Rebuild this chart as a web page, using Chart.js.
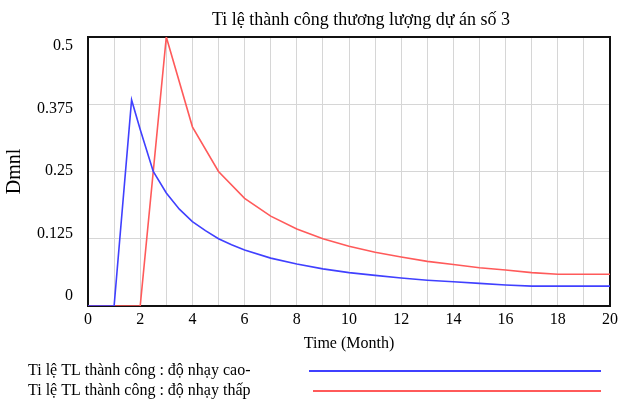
<!DOCTYPE html>
<html>
<head>
<meta charset="utf-8">
<script src="https://cdn.jsdelivr.net/npm/chart.js@4"></script>
<style>
  html, body { margin: 0; padding: 0; background: #fff; }
  #wrap { width: 620px; height: 401px; }
</style>
</head>
<body>
<div id="wrap"><canvas id="myChart" width="620" height="401"></canvas></div>
<script>
let titleText = 'Ti lệ thành công thương lượng dự án số 3';
let labels = ['Ti lệ TL thành công : độ nhạy cao-', 'Ti lệ TL thành công : độ nhạy thấp'];
let colorHex = ['#4040ff', '#ff5a5a'];

// high sensitivity (blue)
let timeHigh = [0, 1, 1.67, 2, 2.5, 3, 3.5, 4, 4.5, 5, 5.5, 6, 7, 8, 9, 10, 11, 12, 13, 14, 15, 16, 17, 18, 19, 20];
let valHigh = [0, 0, 0.383, 0.328, 0.25, 0.21, 0.18, 0.157, 0.14, 0.125, 0.114, 0.104, 0.089, 0.078, 0.069, 0.062, 0.057, 0.052, 0.048, 0.045, 0.042, 0.039, 0.037, 0.037, 0.037, 0.037];

// low sensitivity (red)
let timeLow = [0, 1, 2, 3, 4, 5, 6, 7, 8, 9, 10, 11, 12, 13, 14, 15, 16, 17, 18, 19, 20];
let valLow = [0, 0, 0, 0.5, 0.333, 0.25, 0.2, 0.167, 0.143, 0.125, 0.111, 0.1, 0.091, 0.083, 0.077, 0.071, 0.067, 0.062, 0.059, 0.059, 0.059];

let yTicks = [0, 0.125, 0.25, 0.375, 0.5];

const serif = 'Liberation Serif';

function toPoints(xs, ys) {
    return xs.map((x, i) => ({ x: x, y: ys[i] }));
}

// frame around the plot, title, and legend drawn as "text ....... line"
const framePlugin = {
    id: 'frame',
    beforeDatasetsDraw(chart) {
        const c = chart.ctx;
        const a = chart.chartArea;
        c.save();
        c.strokeStyle = '#111';
        c.lineWidth = 2;
        c.strokeRect(a.left, a.top, a.right - a.left, a.bottom - a.top);
        c.restore();
    },
    afterDraw(chart) {
        const c = chart.ctx;
        c.save();
        c.fillStyle = '#000';
        c.textBaseline = 'middle';

        c.font = '18px "' + serif + '"';
        c.textAlign = 'center';
        c.fillText(titleText, 361, 20);

        c.font = '16px "' + serif + '"';
        c.textAlign = 'left';
        chart.data.datasets.forEach((ds, i) => {
            let y = 371 + i * 20;
            c.fillText(ds.label, 28, y);
            c.strokeStyle = ds.borderColor;
            c.lineWidth = 2;
            c.beginPath();
            c.moveTo(i === 0 ? 309 : 313, y);
            c.lineTo(601, y);
            c.stroke();
        });
        c.restore();
    }
};

let ctx = document.getElementById('myChart').getContext('2d');

let myChart = new Chart(ctx, {
    type: 'line',
    data: {
        datasets: [{
            label: labels[0],
            data: toPoints(timeHigh, valHigh),
            borderColor: colorHex[0],
            borderWidth: 1.6,
            pointRadius: 0,
            tension: 0
        }, {
            label: labels[1],
            data: toPoints(timeLow, valLow),
            borderColor: colorHex[1],
            borderWidth: 1.6,
            pointRadius: 0,
            tension: 0
        }]
    },
    options: {
        responsive: false,
        animation: false,
        layout: {
            padding: { left: 0, right: 10, top: 37, bottom: 48 }
        },
        plugins: {
            legend: { display: false },
            tooltip: { enabled: false },
            title: { display: false }
        },
        scales: {
            x: {
                type: 'linear',
                min: 0,
                max: 20,
                afterFit: (scale) => {
                    scale.height = 47;
                    scale.paddingLeft = 0;
                    scale.paddingRight = 0;
                },
                border: { display: true, color: '#111', width: 2 },
                grid: { color: '#d6d6d6', lineWidth: 1, drawTicks: false },
                ticks: {
                    stepSize: 1,
                    autoSkip: false,
                    maxRotation: 0,
                    padding: 4,
                    color: '#000',
                    font: { family: serif, size: 16 },
                    callback: (v) => (v % 2 === 0 ? String(v) : '')
                },
                title: {
                    display: true,
                    text: 'Time (Month)',
                    color: '#000',
                    font: { family: serif, size: 16 },
                    padding: { top: 0, bottom: 0 }
                }
            },
            // value axis: gridlines only
            y: {
                min: 0,
                max: 0.5,
                afterFit: (scale) => {
                    scale.width = 0;
                    scale.paddingTop = 0;
                    scale.paddingBottom = 0;
                },
                afterBuildTicks: (scale) => {
                    scale.ticks = yTicks.map((v) => ({ value: v }));
                },
                border: { display: true, color: '#111', width: 2 },
                grid: { color: '#d6d6d6', lineWidth: 1, drawTicks: false },
                ticks: { display: false }
            },
            // label axis: the original spreads its labels slightly inside the frame
            yLabels: {
                position: 'left',
                min: -0.02,
                max: 0.518,
                afterFit: (scale) => {
                    scale.width = 88;
                    scale.paddingTop = 0;
                    scale.paddingBottom = 0;
                },
                afterBuildTicks: (scale) => {
                    scale.ticks = yTicks.map((v) => ({ value: v }));
                },
                border: { display: false },
                grid: { display: false, drawTicks: false },
                ticks: {
                    padding: 15,
                    color: '#000',
                    font: { family: serif, size: 16 },
                    callback: (v) => String(v)
                },
                title: {
                    display: true,
                    text: 'Dmnl',
                    color: '#000',
                    font: { family: serif, size: 20 },
                    padding: { top: 3, bottom: 0 }
                }
            }
        }
    },
    plugins: [framePlugin]
});
</script>
</body>
</html>
